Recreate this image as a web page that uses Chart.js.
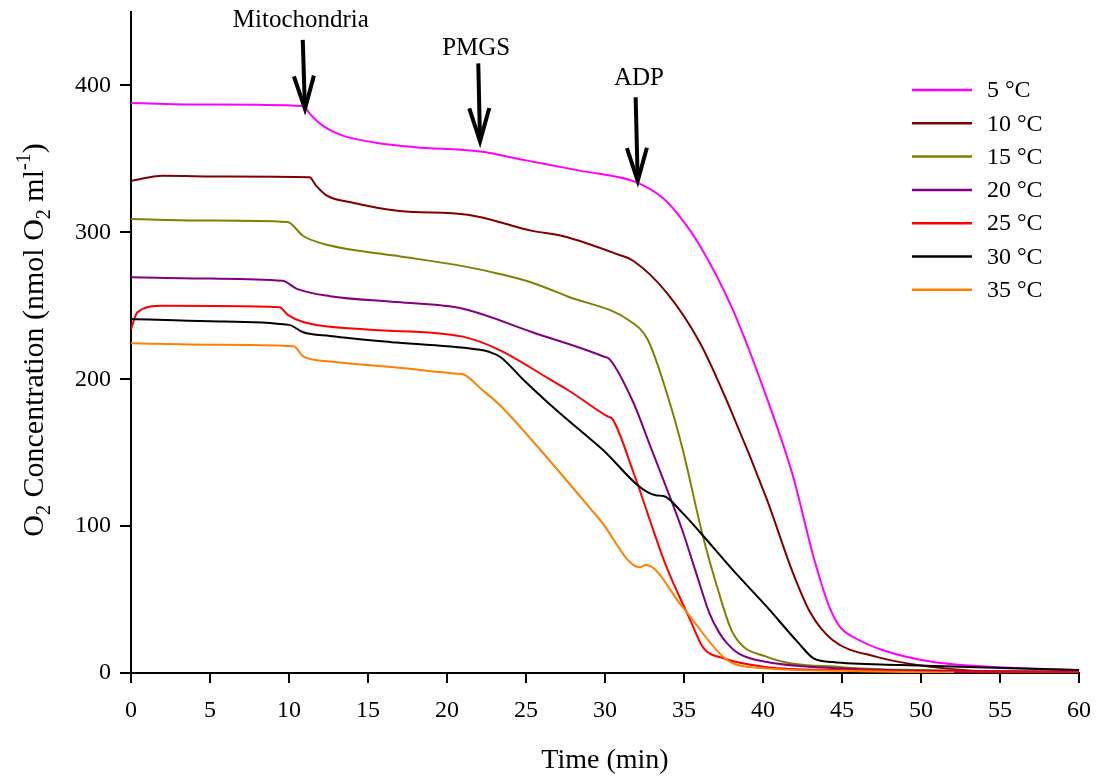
<!DOCTYPE html>
<html>
<head>
<meta charset="utf-8">
<script src="https://cdn.jsdelivr.net/npm/chart.js@4.4.1/dist/chart.umd.min.js"></script>
<style>
  html, body { margin: 0; padding: 0; background: #fff; }
  #wrap { width: 1099px; height: 777px; }
</style>
</head>
<body>
<div id="wrap"><canvas id="o2Chart" width="1099" height="777"></canvas></div>
<script>
// series names and colours
const seriesNames = ['5 °C', '10 °C', '15 °C', '20 °C', '25 °C', '30 °C', '35 °C'];
const seriesColors = ['#ff00ff', '#800000', '#808000', '#800080', '#ff0000', '#000000', '#ff8000'];

// time (min) and O2 (nmol O2 ml-1)
const t5  = [0, 5, 10.9, 11.3, 11.8, 12.6, 13.5, 15.8, 18, 22.1, 25, 28.4, 32, 33.7, 34.6, 36, 38.1, 40.25, 41.9, 43.2, 44.2, 44.9, 45.8, 47.6, 50.8, 55, 60];
const o5  = [388, 387, 386, 381, 375.5, 369.5, 365.5, 360.5, 358, 355, 349, 342, 334, 323, 312.5, 291, 247, 187, 134, 79, 45, 31, 24, 15.5, 7.5, 4, 2];

const t10 = [0, 2, 6, 11.3, 11.7, 12.4, 13.9, 17, 21.3, 25.4, 27.3, 30.8, 31.8, 33.9, 36, 38, 40.25, 41.9, 43, 44.4, 47.2, 50.8, 53.9];
const o10 = [335, 338.5, 338, 337.5, 332, 325, 320.5, 314.5, 312, 301, 297.5, 285, 280.5, 259, 225, 178, 118, 68, 41, 22.5, 11, 4, 1];

const t15 = [0, 5, 9.9, 10.9, 12.6, 16.8, 21, 23.4, 25.3, 27.6, 31.6, 32.7, 33.9, 34.9, 36.2, 37.1, 38.1, 40.25, 45, 50, 60];
const o15 = [309, 308, 307, 297.5, 291, 284, 277, 271.5, 266, 256.5, 239.5, 227, 191, 153, 93, 58.5, 27, 11, 4, 2, 1];

const t20 = [0, 5, 9.6, 10.5, 12.6, 16.8, 21, 25.4, 29.9, 30.3, 31.8, 32.9, 34, 34.9, 35.8, 36.6, 37.2, 37.7, 38.5, 40.25, 45, 50, 60];
const o20 = [269.5, 268.5, 267, 261.5, 256.5, 252.5, 248, 232, 215.5, 213.5, 184, 153.5, 123, 97, 67, 41, 28, 20.5, 13, 7.5, 3, 1.5, 1];

const t25 = [0, 0.4, 2, 9.4, 9.9, 10.9, 14.7, 21, 23.3, 26.5, 27.6, 30.1, 30.5, 31.8, 33.9, 35.4, 36.2, 37.5, 40.25, 45, 50, 60];
const o25 = [234, 245.5, 250, 249, 244, 239, 234, 229, 220, 200, 193, 175, 172.5, 136.5, 72, 36, 17.5, 10, 4, 2, 1, 0.5];

const t30 = [0, 5, 10, 10.9, 12.6, 16.8, 22.1, 22.7, 23.4, 24.8, 26.5, 29.7, 33.2, 33.7, 34.9, 36, 38.1, 40.25, 42.2, 43.2, 44.4, 48.7, 60];
const o30 = [241, 239.5, 237, 232, 229.5, 225, 220, 218.5, 215, 200, 183, 153.5, 121, 120.5, 109, 96, 70, 45, 21, 10, 7.5, 5.5, 2];

const t35 = [0, 5, 10.3, 10.9, 12.6, 16.8, 20.6, 21.05, 22.2, 23.4, 25.9, 29.7, 32.2, 32.6, 34.9, 37.7, 39.2, 45, 50, 52.1];
const o35 = [224.5, 223.5, 222.5, 215.5, 212, 208, 203.8, 203.2, 193, 181.8, 152, 104, 72, 73.5, 45, 9, 4, 1.5, 0.5, 0.3];

const xTicks = [0, 5, 10, 15, 20, 25, 30, 35, 40, 45, 50, 55, 60];
const yTicks = [0, 100, 200, 300, 400];

// additions marked with arrows
const noteLabels = ['Mitochondria', 'PMGS', 'ADP'];
const noteTextT  = [10.75, 21.85, 32.15];
const noteTextO  = [440, 420.5, 400];
const arrowTopT  = [10.87, 21.98, 31.94];
const arrowTopO  = [431, 415, 392];
const arrowTipT  = [11.01, 22.09, 32.07];
const arrowTipO  = [384, 362, 335];

const times = [t5, t10, t15, t20, t25, t30, t35];
const values = [o5, o10, o15, o20, o25, o30, o35];

const serif = '"Liberation Serif", "Times New Roman", serif';
Chart.defaults.font.family = serif;
Chart.defaults.color = '#000';

const datasets = seriesNames.map((name, i) => ({
  label: name,
  data: times[i].map((t, k) => ({ x: t, y: values[i][k] })),
  borderColor: seriesColors[i],
  backgroundColor: seriesColors[i],
  borderWidth: 2,
  pointRadius: 0,
  fill: false,
  cubicInterpolationMode: 'monotone',
  order: seriesNames.length - i
}));

// no extra room for tick labels, plot box is set by layout padding
function noPad(s) {
  s.paddingTop = 0; s.paddingBottom = 0; s.paddingLeft = 0; s.paddingRight = 0;
}

// arrows + labels above the traces
const notesPlugin = {
  id: 'notes',
  afterDatasetsDraw(chart) {
    const { ctx, scales: { x, y } } = chart;
    ctx.save();
    ctx.strokeStyle = '#000';
    ctx.fillStyle = '#000';
    ctx.lineWidth = 4;
    ctx.font = '25px ' + serif;
    ctx.textAlign = 'center';
    ctx.textBaseline = 'alphabetic';
    noteLabels.forEach((lab, i) => {
      ctx.fillText(lab, x.getPixelForValue(noteTextT[i]), y.getPixelForValue(noteTextO[i]));
      const x0 = x.getPixelForValue(arrowTopT[i]), y0 = y.getPixelForValue(arrowTopO[i]);
      const x1 = x.getPixelForValue(arrowTipT[i]), y1 = y.getPixelForValue(arrowTipO[i]);
      const len = Math.hypot(x1 - x0, y1 - y0);
      const ux = (x1 - x0) / len, uy = (y1 - y0) / len;
      ctx.beginPath();
      ctx.moveTo(x0, y0);
      ctx.lineTo(x1 - ux * 3, y1 - uy * 3);
      ctx.stroke();
      ctx.beginPath();
      ctx.moveTo(x1 - ux * 33 - uy * 10, y1 - uy * 33 + ux * 10);
      ctx.lineTo(x1, y1);
      ctx.lineTo(x1 - ux * 33 + uy * 10, y1 - uy * 33 - ux * 10);
      ctx.stroke();
    });
    ctx.restore();
  }
};

// legend inside the plot, top right
const sideLegend = {
  id: 'sideLegend',
  afterDraw(chart) {
    const { ctx, chartArea } = chart;
    ctx.save();
    ctx.font = '24px ' + serif;
    ctx.textBaseline = 'middle';
    ctx.textAlign = 'left';
    chart.data.datasets.forEach((ds, i) => {
      const yy = 90 + i * 33.3;
      const xl = chartArea.right - 167;
      ctx.strokeStyle = ds.borderColor;
      ctx.lineWidth = 2.5;
      ctx.beginPath();
      ctx.moveTo(xl, yy);
      ctx.lineTo(xl + 60, yy);
      ctx.stroke();
      ctx.fillStyle = '#000';
      ctx.fillText(ds.label, xl + 75, yy + 1);
    });
    ctx.restore();
  }
};

// y title with sub/superscripts
const yTitle = {
  id: 'yTitle',
  afterDraw(chart) {
    const ctx = chart.ctx;
    const parts = [['O', 0], ['2', 1], [' Concentration (nmol O', 0], ['2', 1], [' ml', 0], ['-1', -1], [')', 0]];
    const big = '30px ' + serif, small = '20px ' + serif;
    ctx.save();
    ctx.translate(43, 340);
    ctx.rotate(-Math.PI / 2);
    ctx.fillStyle = '#000';
    ctx.textAlign = 'left';
    ctx.textBaseline = 'alphabetic';
    let total = 0;
    parts.forEach(p => { ctx.font = p[1] ? small : big; total += ctx.measureText(p[0]).width; });
    let cx = -total / 2;
    parts.forEach(p => {
      ctx.font = p[1] ? small : big;
      const dy = p[1] === 1 ? 7 : (p[1] === -1 ? -13 : 0);
      ctx.fillText(p[0], cx, dy);
      cx += ctx.measureText(p[0]).width;
    });
    ctx.restore();
  }
};

new Chart(document.getElementById('o2Chart'), {
  type: 'line',
  data: { datasets: datasets },
  options: {
    responsive: false,
    animation: false,
    layout: { padding: { top: 12, right: 20, left: 0, bottom: 0 } },
    plugins: { legend: { display: false }, tooltip: { enabled: false } },
    scales: {
      x: {
        type: 'linear',
        min: 0,
        max: 60,
        afterBuildTicks: s => { s.ticks = xTicks.map(v => ({ value: v })); },
        afterFit: s => { s.height = 104; noPad(s); },
        border: { display: true, color: '#000', width: 2 },
        grid: { display: true, drawOnChartArea: false, drawTicks: true, tickLength: 10, color: '#000', lineWidth: 2 },
        ticks: { font: { size: 24 }, color: '#000', padding: 13, maxRotation: 0, autoSkip: false },
        title: { display: true, text: 'Time (min)', font: { size: 28 }, color: '#000', padding: { top: 0, bottom: 0 } }
      },
      y: {
        type: 'linear',
        min: 0,
        max: 450,
        afterBuildTicks: s => { s.ticks = yTicks.map(v => ({ value: v })); },
        afterFit: s => { s.width = 131; noPad(s); },
        border: { display: true, color: '#000', width: 2 },
        grid: { display: true, drawOnChartArea: false, drawTicks: true, tickLength: 11, color: '#000', lineWidth: 2 },
        ticks: { font: { size: 24 }, color: '#000', padding: 9, autoSkip: false },
        title: { display: false }
      }
    }
  },
  plugins: [notesPlugin, sideLegend, yTitle]
});
</script>
</body>
</html>
